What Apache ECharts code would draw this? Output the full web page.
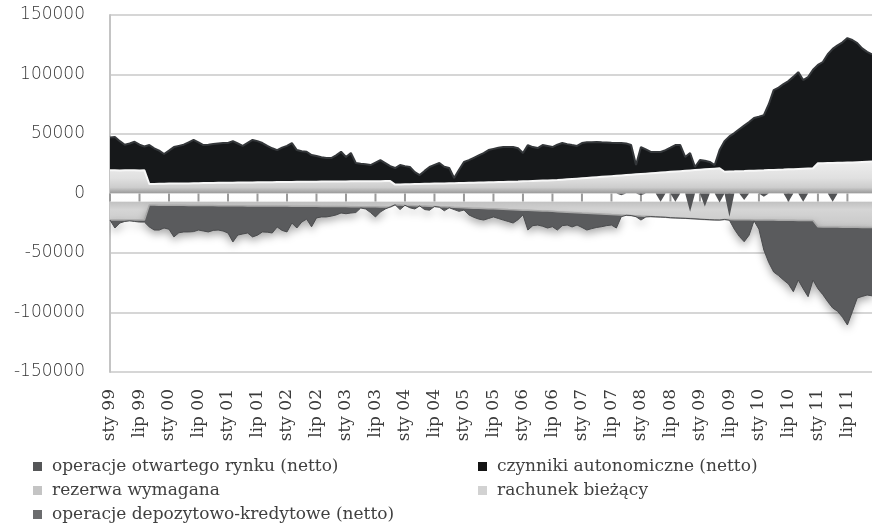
<!DOCTYPE html>
<html>
<head>
<meta charset="utf-8">
<script src="https://cdn.jsdelivr.net/npm/echarts@6/dist/echarts.min.js"></script>
<style>
  html, body { margin: 0; padding: 0; background: #ffffff; }
  #chart { width: 872px; height: 528px; }
</style>
</head>
<body>
<div id="chart"></div>
<script>
// Month labels (Polish abbreviations) and years covered, Jan 1999 – Dec 2011
const MONTHS = ['sty', 'lut', 'mar', 'kwi', 'maj', 'cze', 'lip', 'sie', 'wrz', 'paź', 'lis', 'gru'];
const YEARS = ['99', '00', '01', '02', '03', '04', '05', '06', '07', '08', '09', '10', '11'];
const categories = [];
YEARS.forEach(function (y) { MONTHS.forEach(function (m) { categories.push(m + ' ' + y); }); });

// Y axis range (mln zł)
const Y_MIN = -150000;
const Y_MAX = 150000;
const Y_STEP = 50000;

// Series names
const NAME_OMO = 'operacje otwartego rynku (netto)';
const NAME_AUTO = 'czynniki autonomiczne (netto)';
const NAME_RES = 'rezerwa wymagana';
const NAME_CUR = 'rachunek bieżący';
const NAME_DEP = 'operacje depozytowo-kredytowe (netto)';

// rezerwa wymagana (positive stack, bottom)
const rezerwa = [
  19500, 19600, 19400, 19500, 19600, 19500, 19400, 19500, 7900, 8000, 8100, 8200,
  8300, 8300, 8400, 8500, 8500, 8600, 8700, 8800, 8800, 8900, 9000, 9000,
  9100, 9100, 9200, 9200, 9300, 9300, 9400, 9400, 9500, 9500, 9600, 9600,
  9700, 9700, 9800, 9800, 9900, 9900, 9900, 10000, 10000, 10000, 10100, 10100,
  10100, 10200, 10200, 10200, 10200, 10300, 10300, 10300, 10400, 10400, 7500, 7600,
  7700, 7800, 7900, 8000, 8100, 8200, 8300, 8400, 8500, 8600, 8700, 8800,
  8900, 9000, 9100, 9200, 9300, 9400, 9500, 9600, 9700, 9800, 9900, 10000,
  10200, 10400, 10600, 10800, 10900, 11000, 11200, 11300, 11600, 11900, 12200, 12500,
  12800, 13100, 13400, 13700, 14000, 14300, 14600, 14900, 15200, 15500, 15800, 16100,
  16400, 16700, 17000, 17300, 17600, 17900, 18200, 18500, 18800, 19100, 19400, 19700,
  20000, 20300, 20600, 20900, 21200, 18300, 18500, 18600, 18800, 18900, 19100, 19200,
  19400, 19500, 19700, 19800, 20000, 20100, 20300, 20400, 20600, 20800, 21000, 21200,
  25400, 25500, 25600, 25700, 25800, 25900, 26000, 26100, 26300, 26500, 26700, 26900
];

// czynniki autonomiczne (positive stack, on top of rezerwa)
const czynniki = [
  27500, 27900, 24600, 21500, 22400, 24000, 21600, 20000, 32800, 30000, 27900, 25000,
  27700, 30700, 31600, 32500, 34500, 36400, 34300, 31900, 32200, 32600, 33000, 33400,
  33300, 34900, 32800, 30800, 33200, 35700, 34600, 33000, 30500, 28500, 26900, 28900,
  30300, 32700, 26700, 25700, 25200, 22400, 21600, 20500, 19800, 19800, 21900, 25000,
  20600, 23800, 15400, 14800, 14300, 13600, 15700, 17800, 15200, 12600, 13900, 16300,
  15300, 14500, 10100, 7500, 10900, 14100, 15700, 17200, 14000, 12800, 4300, 11200,
  17600, 19000, 20900, 22800, 24700, 27100, 28000, 28900, 29300, 29200, 29100, 28000,
  23800, 30300, 28400, 27400, 29800, 29000, 27800, 29700, 30800, 29600, 28500, 27500,
  29600, 29900, 29600, 29600, 29000, 28500, 28000, 27600, 27200, 26500, 24900, 7900,
  22600, 20300, 17900, 17600, 17300, 18600, 20300, 22200, 21900, 11600, 14600, 2600,
  8100, 7200, 5900, 3000, 15300, 25700, 29500, 32200, 35200, 38100, 40900, 44200,
  45100, 46400, 55300, 67100, 69000, 71900, 74200, 77600, 81400, 74500, 76900, 82800,
  82600, 85000, 91400, 95800, 98700, 101100, 104600, 102900, 100100, 95500, 92300, 90100
];

// rachunek bieżący (negative stack, next to zero)
const rachunek = [
  -22300, -22300, -22300, -22300, -22300, -22300, -22300, -22300, -9700, -9700, -9800, -9800,
  -9800, -9900, -9900, -9900, -10000, -10000, -10000, -10100, -10100, -10100, -10200, -10200,
  -10200, -10300, -10300, -10300, -10400, -10400, -10400, -10500, -10500, -10500, -10600, -10600,
  -10600, -10700, -10700, -10700, -10800, -10800, -10800, -10900, -10900, -10900, -11000, -11000,
  -11000, -11100, -11100, -11100, -11200, -11200, -11200, -11300, -11300, -11300, -9500, -9700,
  -9900, -10000, -10200, -10400, -10500, -10700, -10900, -11100, -11200, -11400, -11600, -11700,
  -11900, -12100, -12300, -12400, -12600, -12800, -12900, -13100, -13300, -13500, -13600, -13800,
  -14000, -14100, -14300, -14500, -14700, -14800, -15000, -15300, -15500, -15700, -15900, -16100,
  -16400, -16600, -16800, -17000, -17200, -17400, -17700, -17900, -18100, -18300, -18500, -18700,
  -19000, -19200, -19400, -19600, -19800, -20000, -20300, -20500, -20700, -20900, -21100, -21300,
  -21600, -21800, -22000, -22200, -22300, -21800, -21900, -22000, -22000, -22100, -22100, -22200,
  -22200, -22300, -22300, -22300, -22400, -22400, -22500, -22500, -22600, -22600, -22700, -22700,
  -28000, -28100, -28100, -28200, -28200, -28300, -28300, -28400, -28400, -28500, -28500, -28600
];

// operacje otwartego rynku (negative stack, below rachunek bieżący)
const otwartegoRynku = [
  0, -6700, -2500, -1200, -700, -1200, -1700, -1700, -18400, -21000, -20900, -19200,
  -20200, -26600, -23100, -22400, -22300, -22000, -20700, -21400, -22200, -20900, -20500, -21300,
  -23000, -30400, -24600, -23700, -22800, -26100, -24600, -21800, -22000, -22700, -17500, -20400,
  -21700, -14100, -18300, -13300, -10700, -17200, -9700, -8800, -8800, -8100, -7000, -5400,
  -6000, -5300, -4900, -1100, -1800, -4800, -8500, -4200, -1700, 0, 0, -3800,
  0, -2000, -2800, 0, -3000, -3300, 0, -400, -3300, -600, -1900, -3300,
  -2000, -5900, -7700, -9100, -9700, -8200, -6800, -7900, -9000, -10000, -11200, -8200,
  -4000, -16600, -12700, -12000, -12800, -14200, -12900, -15400, -11500, -10800, -12200, -10400,
  -12100, -14100, -12700, -11500, -10700, -9600, -8800, -11100, -1400, 0, 0, -800,
  -3300, -500, 0, 0, 0, 0, 0, 0, 0, 0, 0, 0,
  0, 0, 0, 0, 0, 0, -600, -8000, -14000, -18400, -12900, -800,
  -7800, -25200, -35700, -43700, -46600, -50300, -53500, -60000, -50100, -57400, -64000, -50000,
  -52000, -56900, -62800, -68000, -70800, -75700, -82200, -70900, -59400, -58000, -56800, -57400
];

// operacje depozytowo-kredytowe (drawn unstacked, from zero)
const depozytowo = [
  0, 0, 0, 0, 0, 0, 0, 0, 0, 0, 0, 0,
  0, 0, 0, 0, 0, 0, 0, 0, 0, 0, 0, 0,
  0, 0, 0, 0, 0, 0, 0, 0, 0, 0, 0, 0,
  0, 0, 0, 0, 0, 0, 0, 0, 0, 0, 0, 0,
  0, 0, 0, 0, 0, 0, 0, 0, 0, 0, 0, 0,
  0, 0, 0, 0, 0, 0, 0, 0, 0, 0, 0, 0,
  0, 0, 0, 0, 0, 0, 0, 0, 0, 0, 0, 0,
  0, 0, 0, 0, 0, 0, 0, 0, 0, 0, 0, 0,
  0, 0, 0, 0, 0, 0, 0, 0, -1500, 0, 0, 0,
  -1500, 0, 0, 0, -6900, 0, 0, -6900, 0, 0, -15300, 0,
  0, -11000, 0, 0, -7500, 0, -19500, 0, 0, -5500, 0, 0,
  0, -2700, 0, 0, 0, 0, -6900, 0, 0, -6900, 0, 0,
  0, 0, 0, -6900, 0, 0, 0, 0, 0, 0, 0, 0
];

// Half-year tick marks on the zero line: [category index, 0]
const zeroTicks = [];
categories.forEach(function (c, i) { if (i % 6 === 0) zeroTicks.push([i, 0]); });

const chart = echarts.init(document.getElementById('chart'), null, { renderer: 'canvas' });

// Plot frame in pixels (used for the bevel-like gradients)
const GRID_TOP = 15;
const GRID_BOTTOM = 156;
const PLOT_H = 528 - GRID_TOP - GRID_BOTTOM;
const ZERO_Y = GRID_TOP + PLOT_H * (Y_MAX / (Y_MAX - Y_MIN));

const G = echarts.graphic.LinearGradient;

const reserveFill = new G(0, ZERO_Y - 34, 0, ZERO_Y, [
  { offset: 0, color: '#efefef' },
  { offset: 0.55, color: '#e0e0e0' },
  { offset: 0.82, color: '#cdcdcd' },
  { offset: 1, color: '#979797' }
], true);

const currentFill = new G(0, ZERO_Y, 0, ZERO_Y + 40, [
  { offset: 0, color: '#ffffff' },
  { offset: 0.19, color: '#fdfdfd' },
  { offset: 0.22, color: '#c2c2c2' },
  { offset: 0.4, color: '#d5d5d5' },
  { offset: 0.75, color: '#cbcbcb' },
  { offset: 1, color: '#b9b9b9' }
], true);

const SERIF = 'DejaVu Serif';
const SANS = 'DejaVu Sans';

function area(name, data, fill, lineColor, lineWidth, extra) {
  return Object.assign({
    name: name,
    type: 'line',
    data: data,
    stack: 'liq',
    symbol: 'none',
    showSymbol: false,
    smooth: false,
    lineStyle: { color: lineColor, width: lineWidth },
    areaStyle: { color: fill, opacity: 1 },
    emphasis: { disabled: true }
  }, extra || {});
}

const legendText = { fontFamily: SERIF, fontSize: 17, color: '#404040', lineHeight: 17, padding: [0, 0, 0, 5] };

function legendBox(names, left) {
  return {
    data: names,
    orient: 'vertical',
    left: left, top: 458, height: 80, padding: 0, itemGap: 7,
    itemWidth: 9, itemHeight: 9, icon: 'rect', selectedMode: false,
    lineStyle: { opacity: 0 },
    textStyle: legendText
  };
}

chart.setOption({
  animation: false,
  backgroundColor: '#ffffff',
  grid: { left: 110, right: -7, top: GRID_TOP, bottom: GRID_BOTTOM, containLabel: false },
  legend: [
    legendBox([NAME_OMO, NAME_RES, NAME_DEP], 33),
    legendBox([NAME_AUTO, NAME_CUR], 478)
  ],
  xAxis: {
    type: 'category',
    data: categories,
    boundaryGap: false,
    axisLine: { show: false, onZero: false },
    axisTick: { show: false },
    axisLabel: {
      interval: 5, rotate: 90, margin: 17,
      fontFamily: SERIF, fontSize: 17, color: '#3a3a3a'
    },
    splitLine: { show: false }
  },
  yAxis: {
    type: 'value',
    min: Y_MIN, max: Y_MAX, interval: Y_STEP,
    axisLine: { show: true, lineStyle: { color: '#c4c4c4', width: 2 } },
    axisTick: { show: false },
    axisLabel: {
      margin: 25, fontFamily: SANS, fontWeight: 200, fontSize: 17, color: '#333333',
      formatter: function (v) { return String(v); }
    },
    splitLine: { show: true, lineStyle: { color: '#d6d6d6', width: 2 } }
  },
  series: [
    area(NAME_RES, rezerwa, reserveFill, '#f7f7f7', 2, { color: '#c4c4c4', itemStyle: { color: '#c4c4c4' } }),
    area(NAME_AUTO, czynniki, '#16181a', '#34373a', 2, { color: '#141414', itemStyle: { color: '#141414' } }),
    area(NAME_CUR, rachunek, currentFill, '#a9a9a9', 1.5, { color: '#d2d2d2', itemStyle: { color: '#d2d2d2' } }),
    area(NAME_OMO, otwartegoRynku, '#5a5b5d', '#4b4c4e', 1, {
      color: '#555658', itemStyle: { color: '#555658' },
      areaStyle: { color: '#5a5b5d', opacity: 1, shadowColor: 'rgba(0,0,0,0.35)', shadowBlur: 8, shadowOffsetY: 4 }
    }),
    {
      name: NAME_DEP,
      type: 'line',
      data: depozytowo,
      symbol: 'none',
      showSymbol: false,
      z: 12,
      color: '#6b6c6e',
      itemStyle: { color: '#6b6c6e' },
      lineStyle: { width: 0, opacity: 0 },
      areaStyle: { color: '#525355', opacity: 1 },
      emphasis: { disabled: true }
    },
    {
      // half-year tick marks hanging below the zero line
      type: 'scatter',
      data: zeroTicks,
      symbol: 'rect',
      symbolSize: [2, 8],
      symbolOffset: [0, 4],
      z: 11,
      silent: true,
      clip: false,
      itemStyle: { color: '#9a9a9a', opacity: 1 },
      emphasis: { disabled: true }
    }
  ]
});
</script>
</body>
</html>
